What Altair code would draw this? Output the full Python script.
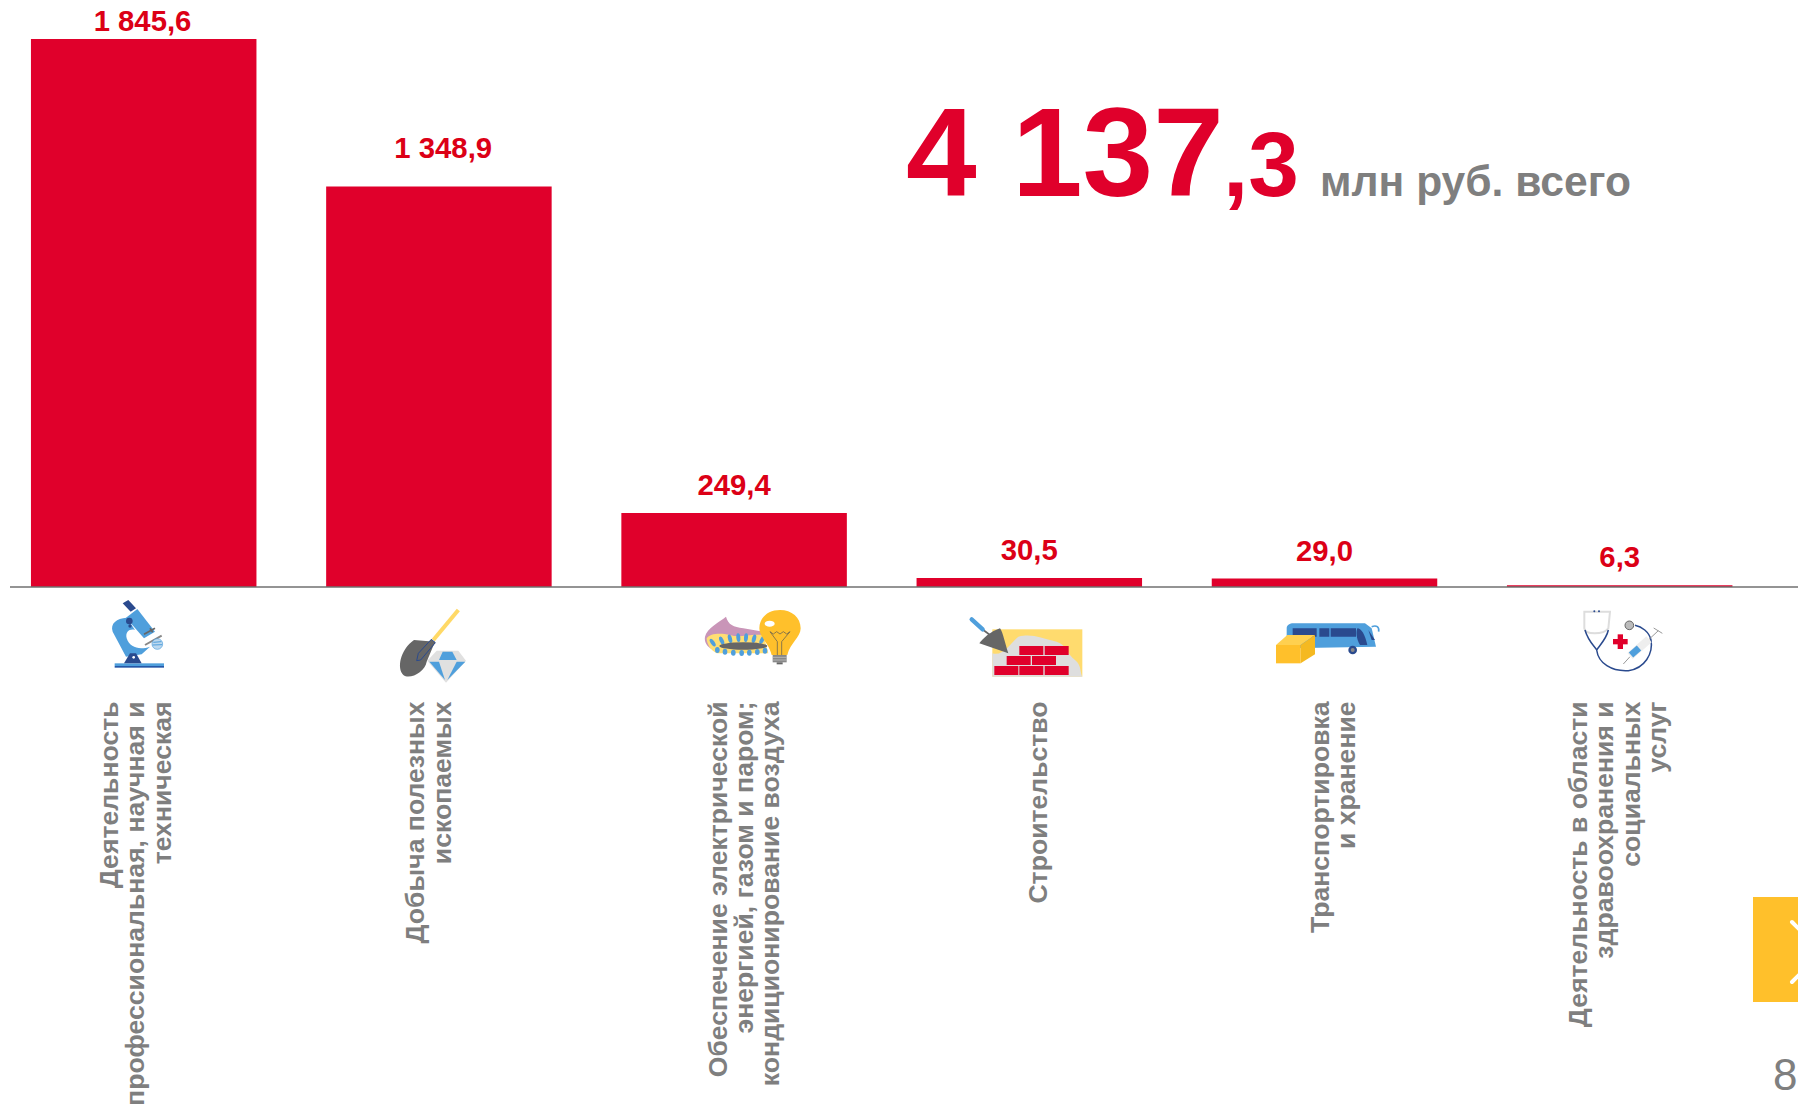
import base64
import altair as alt
import pandas as pd

categories = [
    ["Деятельность", "профессиональная, научная и", "техническая"],
    ["Добыча полезных", "ископаемых"],
    ["Обеспечение электрической", "энергией, газом и паром;", "кондиционирование воздуха"],
    ["Строительство"],
    ["Транспортировка", "и хранение"],
    ["Деятельность в области", "здравоохранения и", "социальных", "услуг"],
]
values = [1845.6, 1348.9, 249.4, 30.5, 29.0, 6.3]
value_labels = ["1 845,6", "1 348,9", "249,4", "30,5", "29,0", "6,3"]

RED = "#E0002B"
LABEL_RED = "#DC0016"
GREY = "#7F7F7F"
FONT = "Liberation Sans"
BLUE = "#4F9FDC"
NAVY = "#2A4A8E"
YEL = "#FFC02B"


def svg_uri(w, h, body):
    s = (f'<svg xmlns="http://www.w3.org/2000/svg" width="{w}" height="{h}" '
         f'viewBox="0 0 {w * 3} {h * 3}">{body}</svg>')
    return "data:image/svg+xml;base64," + base64.b64encode(s.encode()).decode()


microscope = f'''
<rect x="44" y="205" width="148" height="8" fill="{BLUE}"/><rect x="44" y="213" width="148" height="5" fill="#2457A8"/>
<path d="M68 25L85 15L108 40L92 50Z" fill="{NAVY}"/>
<path d="M80 68C50 70 30 85 38 110L78 185L125 178L150 155C120 165 90 160 80 130C75 110 90 100 105 105Z" fill="{BLUE}"/>
<path d="M78 68L112 42L165 110L132 130Z" fill="{BLUE}"/>
<circle cx="88" cy="78" r="10" fill="{NAVY}"/><circle cx="90" cy="93" r="5" fill="{NAVY}"/>
<path d="M72 205L90 175L108 175L125 205Z" fill="{NAVY}"/><circle cx="101" cy="187" r="4" fill="white"/>
<path d="M132 118L165 100M150 100L158 112" stroke="#666" stroke-width="5" fill="none"/>
<path d="M135 150L185 122" stroke="#888" stroke-width="6" fill="none"/>
<circle cx="172" cy="147" r="16" fill="#BCD8EE" stroke="{BLUE}" stroke-width="2"/>
<path d="M160 142L184 140M158 150L186 149" stroke="{BLUE}" stroke-width="3"/>
'''

shovel = f'''
<path d="M130 120L205 30" stroke="#FFD966" stroke-width="12"/>
<path d="M72 120L135 125L110 185C105 215 60 240 40 225C20 205 30 150 72 120Z" fill="#666"/>
<path d="M124 118L136 128L92 180L80 182L85 160Z" fill="#666" stroke="{NAVY}" stroke-width="3"/>
<path d="M140 152L205 152L228 182L168 248L112 182Z" fill="#E0E0E0"/>
<path d="M147 180L158 155L187 155L200 180Z" fill="{BLUE}"/>
<path d="M118 185L147 185L165 240Z" fill="{BLUE}"/><path d="M200 185L226 185L172 240Z" fill="{BLUE}"/>
'''

upper = "".join(f'<ellipse cx="{x}" cy="{y}" rx="6" ry="13" fill="{BLUE}" transform="rotate({r} {x} {y})"/>'
                for x, y, r in [(38, 128, -35), (65, 122, -25), (90, 116, -15), (115, 113, -5),
                                (138, 113, 5), (162, 116, 15), (186, 120, 25)])
lower = "".join(f'<ellipse cx="{x}" cy="{y}" rx="7" ry="9" fill="{BLUE}"/>'
                for x, y in [(52, 150), (75, 155), (100, 158), (125, 159), (148, 158), (172, 156), (195, 152)])
burner = f'''
<path d="M15 110C20 85 60 65 78 50C85 75 100 80 130 85L190 95L190 120L60 110L40 150C20 140 12 125 15 110Z" fill="#C995B8"/>
<path d="M20 115C30 100 60 98 90 105C120 115 150 100 190 105L205 160L50 160C30 150 20 130 20 115Z" fill="#FFDE73"/>
{upper}<ellipse cx="130" cy="138" rx="72" ry="11" fill="#666"/>{lower}
<path d="M240 30C205 30 178 52 178 85C178 112 205 125 215 165L262 165C270 130 302 112 302 85C302 52 275 30 240 30Z" fill="{YEL}"/>
<rect x="218" y="165" width="42" height="22" fill="#888"/><path d="M218 172H260M218 180H260" stroke="#ccc" stroke-width="2"/>
<rect x="230" y="187" width="18" height="6" fill="#666"/>
<path d="M210 95L220 102L230 95L240 102L250 95L260 102L270 95L245 125V165M210 95L232 125V165" stroke="#555" stroke-width="2" fill="none"/>
<ellipse cx="209" cy="71" rx="15" ry="9" fill="white"/>
'''

bricks_rows = [(108, [178, 254]), (138, [140, 216]), (168, [103, 178, 254])]
brick_rects = "".join(f'<rect x="{x}" y="{y}" width="72" height="27" fill="{RED}"/>'
                      for y, xs in bricks_rows for x in xs)
brick = f'''
<rect x="97" y="58" width="270" height="142" fill="#FFDB6E"/>
<path d="M97 200L97 130C130 140 150 100 175 80C220 70 240 85 290 95C320 105 320 130 345 150C365 165 360 190 367 200Z" fill="#DEDEDE"/>
{brick_rects}
<path d="M70 60L90 75" stroke="#666" stroke-width="5"/>
<path d="M35 28L68 58" stroke="{BLUE}" stroke-width="13" stroke-linecap="round"/>
<path d="M120 55C90 65 70 85 58 100L145 130C135 100 130 70 120 55Z" fill="#666"/>
'''

bus = f'''
<path d="M50 40C50 30 60 25 70 25L285 25L305 40L318 95L60 100L50 70Z" fill="{BLUE}"/>
<path d="M68 40H140V65H68ZM148 40H178V65H148ZM182 40H258V65H182Z" fill="{NAVY}"/>
<path d="M262 40C275 40 285 60 292 90L270 90C258 70 258 50 262 40ZM295 45L315 75L305 75Z" fill="{NAVY}"/>
<path d="M305 35C320 30 328 35 326 50" stroke="{BLUE}" stroke-width="5" fill="none"/>
<circle cx="248" cy="105" r="13" fill="{NAVY}"/><circle cx="248" cy="105" r="6" fill="#888"/>
<path d="M18 90L92 90L92 145L18 145Z" fill="{YEL}"/>
<path d="M18 90L52 60L135 60L92 90Z" fill="#FFD04F"/>
<path d="M92 90L135 60L135 118L92 145Z" fill="#F5B921"/>
'''

steth = f'''
<path d="M28 35H105L100 85C85 105 30 105 28 85Z" stroke="#DDD" stroke-width="6" fill="none"/>
<circle cx="58" cy="34" r="3" fill="{NAVY}"/><circle cx="72" cy="34" r="3" fill="{NAVY}"/>
<path d="M30 90C40 125 60 140 65 150C75 135 95 115 100 90M65 150C70 190 110 215 160 212C210 205 235 160 228 120C222 95 200 80 180 76" stroke="{NAVY}" stroke-width="4.5" fill="none"/>
<circle cx="163" cy="76" r="13" fill="#BBB" stroke="#666" stroke-width="3"/>
<rect x="114" y="117" width="44" height="16" fill="{RED}"/><rect x="128" y="103" width="16" height="44" fill="{RED}"/>
<path d="M145 192L165 170M222 118L250 92M236 84L262 100" stroke="#999" stroke-width="3" fill="none"/>
<path d="M165 168L222 118" stroke="#EEE" stroke-width="24"/>
<path d="M168 165L192 144" stroke="{BLUE}" stroke-width="20"/>
'''

# icon: (svg, crop width, crop height, left and top inside the plot area)
icons = [
    (microscope, 80, 80, 92, 587),
    (shovel, 90, 90, 382, 592),
    (burner, 110, 70, 692, 592),
    (brick, 130, 75, 952, 602),
    (bus, 120, 60, 1262, 607),
    (steth, 95, 80, 1567, 592),
]

df = pd.DataFrame({"i": range(6), "value": values, "label": value_labels})
x = alt.X("i:Q", axis=None, scale=alt.Scale(domain=[-0.4597, 5.604], nice=False, zero=False, padding=0))
y = alt.Y("value:Q", axis=None, scale=alt.Scale(domain=[0, 1950], nice=False, padding=0))

bars = alt.Chart(df).mark_bar(color=RED, size=225.5).encode(x=x, y=y)
baseline = alt.Chart(pd.DataFrame({"value": [0]})).mark_rule(color="#707070", strokeWidth=1.4).encode(
    y=y, x=alt.value(2), x2=alt.value(1790))

layers = [bars, baseline]

for idx, xoff, yoff in [(0, -1.2, -8), (1, 4.3, -28), (2, 0, -17.5), (3, 0, -17.5), (4, 0, -17.5), (5, 0, -18.5)]:
    layers.append(alt.Chart(df.iloc[[idx]]).mark_text(
        font=FONT, fontWeight="bold", fontSize=29.3, color=LABEL_RED, align="center",
        baseline="alphabetic", xOffset=xoff, yOffset=yoff).encode(x=x, y=y, text="label:N"))

for idx, xoff in enumerate([-33.5, -22.5, -15, 9.3, -4, -40.5]):
    d = pd.DataFrame({"i": [idx], "t": [categories[idx]]})
    layers.append(alt.Chart(d).mark_text(
        font=FONT, fontWeight="bold", fontSize=26.6, color=GREY, angle=270, align="right",
        baseline="middle", lineHeight=26.2, xOffset=xoff).encode(
        x=x, y=alt.value(693.4), text="t:N"))

for body, w, h, left, top in icons:
    d = pd.DataFrame({"u": [svg_uri(w, h, body)]})
    layers.append(alt.Chart(d).mark_image(width=w, height=h, align="left", baseline="top").encode(
        url="u:N", x=alt.value(left), y=alt.value(top)))


def note(text, left, size, color, base=188):
    return alt.Chart(pd.DataFrame({"t": [text]})).mark_text(
        font=FONT, fontWeight="bold", fontSize=size, color=color, align="left", baseline="alphabetic").encode(
        text="t:N", x=alt.value(left), y=alt.value(base))


layers += [note("4 137", 898, 127, RED), note(",3", 1215, 91, RED), note("млн руб. всего", 1312, 42.6, GREY)]

button = alt.Chart(pd.DataFrame({"a": [0]})).mark_rect(color=YEL).encode(
    x=alt.value(1745), x2=alt.value(1790), y=alt.value(889), y2=alt.value(994))
chev1 = alt.Chart(pd.DataFrame({"a": [0]})).mark_rule(color="white", strokeWidth=4, strokeCap="round").encode(
    x=alt.value(1784), x2=alt.value(1814), y=alt.value(914), y2=alt.value(944))
chev2 = alt.Chart(pd.DataFrame({"a": [0]})).mark_rule(color="white", strokeWidth=4, strokeCap="round").encode(
    x=alt.value(1784), x2=alt.value(1814), y=alt.value(974), y2=alt.value(944))
page = alt.Chart(pd.DataFrame({"t": ["8"]})).mark_text(
    font=FONT, fontSize=44, color=GREY, align="left", baseline="alphabetic").encode(
    text="t:N", x=alt.value(1765), y=alt.value(1082))
layers += [button, chev1, chev2, page]

chart = alt.layer(*layers).resolve_scale(x="shared", y="shared").properties(
    width=1790, height=579,
    padding={"left": 0, "top": 0, "right": 0, "bottom": 517},
    autosize=alt.AutoSizeParams(type="none"),
    background="white",
).configure_view(stroke=None)

chart.save("out.html", embed_options={"renderer": "svg", "actions": False})
